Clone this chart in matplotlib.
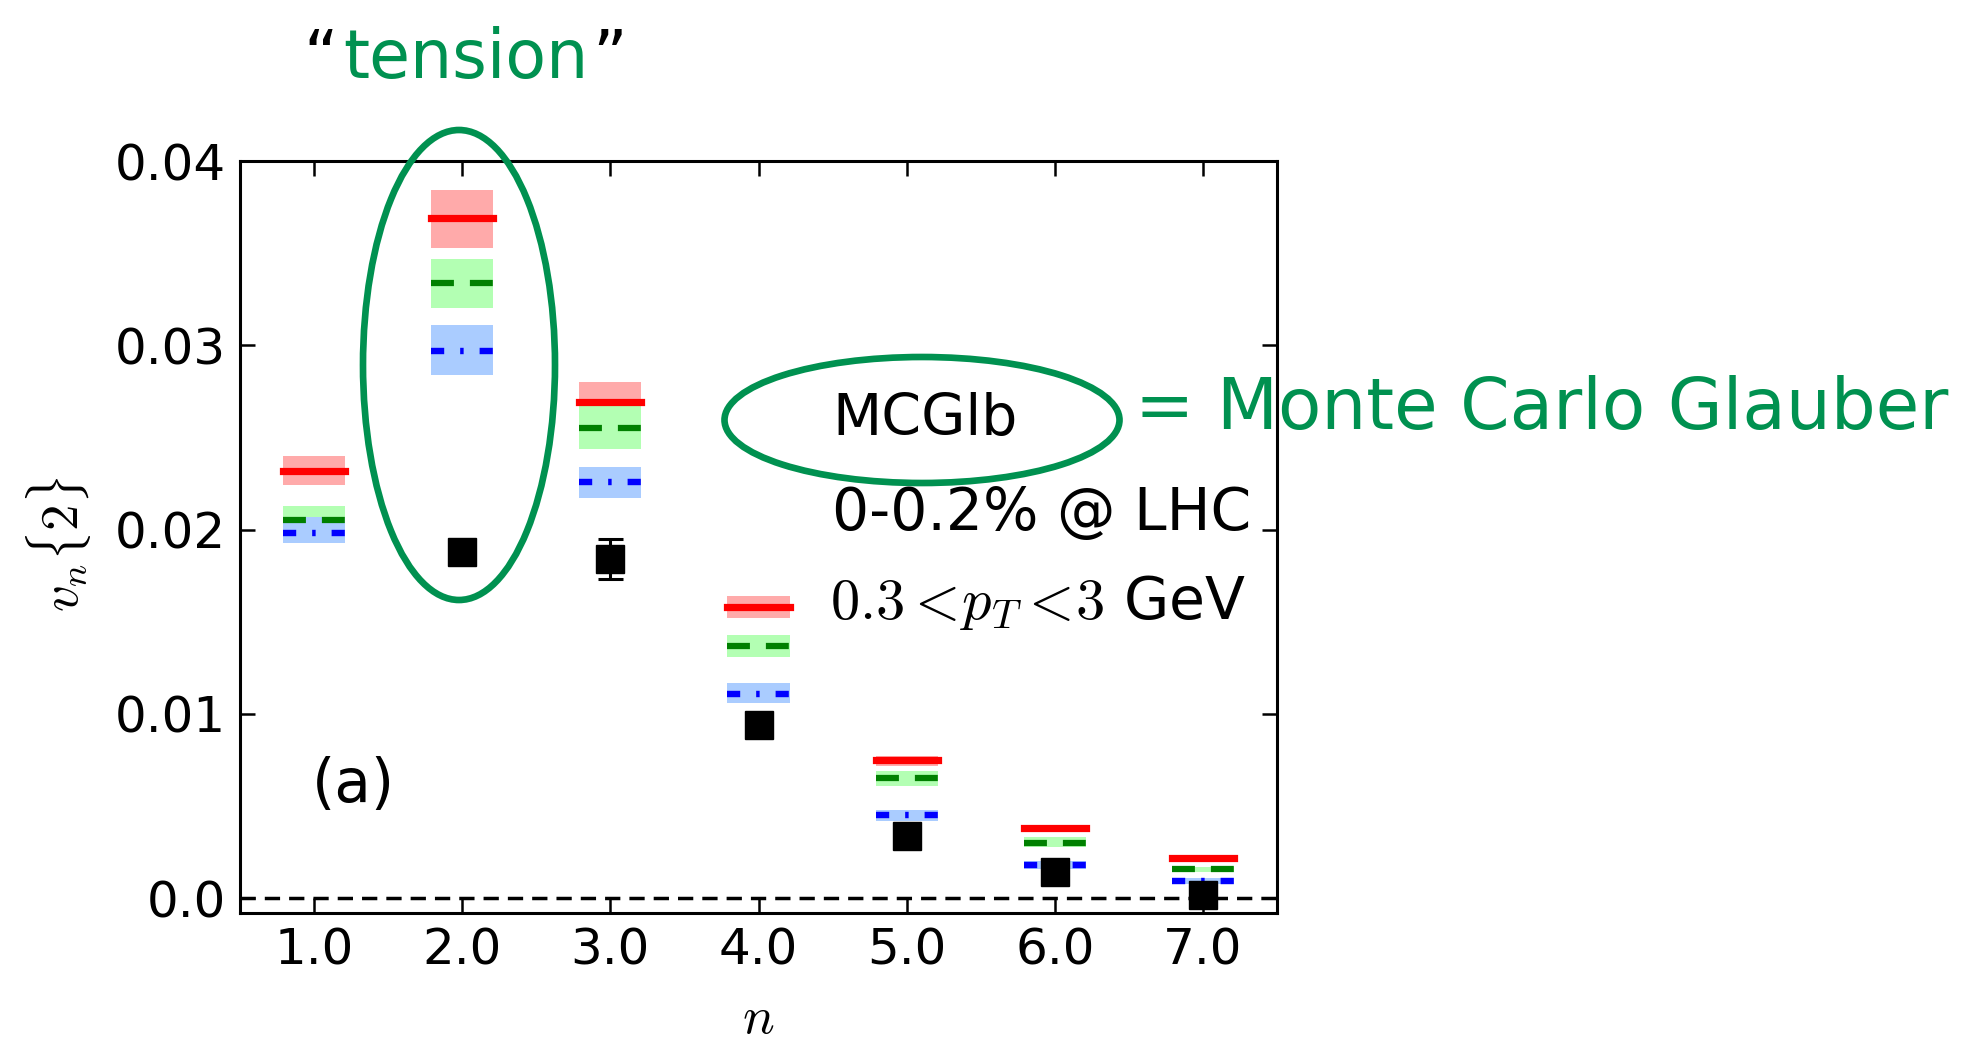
import matplotlib
matplotlib.use("Agg")
import matplotlib.pyplot as plt
from matplotlib.patches import Ellipse

plt.rcParams['mathtext.fontset'] = 'cm'
plt.rcParams['font.family'] = ['DejaVu Sans']
plt.rcParams['lines.scale_dashes'] = False

# ---------------- data ----------------
harmonics = [1, 2, 3, 4, 5, 6, 7]
xtick_labels = ["1.0", "2.0", "3.0", "4.0", "5.0", "6.0", "7.0"]
yticks = [0.0, 0.01, 0.02, 0.03, 0.04]
ytick_labels = ["0.0", "0.01", "0.02", "0.03", "0.04"]

red_mid = [0.0232, 0.0369, 0.0269, 0.0158, 0.0075, 0.0038, 0.0022]
red_lo = [0.0224, 0.0353, 0.0264, 0.0152, 0.0072, 0.0036, 0.0021]
red_hi = [0.0240, 0.0384, 0.0280, 0.0164, 0.0077, 0.0040, 0.0023]

green_mid = [0.0205, 0.0334, 0.0255, 0.0137, 0.0065, 0.0030, 0.00157]
green_lo = [0.0199, 0.0320, 0.0244, 0.0131, 0.0061, 0.0028, 0.0014]
green_hi = [0.0213, 0.0347, 0.0267, 0.0143, 0.0069, 0.0033, 0.0017]

blue_mid = [0.0198, 0.0297, 0.0226, 0.0111, 0.0045, 0.0018, 0.00094]
blue_lo = [0.0193, 0.0284, 0.0217, 0.0106, 0.0042, 0.0016, 0.0008]
blue_hi = [0.0207, 0.0311, 0.0234, 0.0117, 0.0048, 0.0020, 0.0011]

data_n = [2, 3, 4, 5, 6, 7]
data_v = [0.0188, 0.0184, 0.0094, 0.0034, 0.0014, 0.0002]
data_err = [0.0003, 0.0011, 0.0003, 0.0003, 0.0002, 0.0002]

# ---------------- figure ----------------
W, H = 1977, 1041
fig = plt.figure(figsize=(W / 100, H / 100), dpi=100)
ax = fig.add_axes([240 / W, 1 - 913 / H, (1277 - 240) / W, (913 - 161) / H])

half = 0.21
series = [
    (red_mid, red_lo, red_hi, '#ff0000', '#ffaaaa', 5.2, '-'),
    (green_mid, green_lo, green_hi, '#008000', '#b3ffb3', 4.5, (0, (16.5, 11.5))),
    (blue_mid, blue_lo, blue_hi, '#0000ff', '#aaccff', 4.6, (0, (9.5, 11.5, 2.5, 11.5))),
]
for mid, lo, hi, lc, bc, lw, ls in series:
    for n, l, h in zip(harmonics, lo, hi):
        ax.fill_between([n - half, n + half], [l, l], [h, h], color=bc, lw=0, zorder=1)
for mid, lo, hi, lc, bc, lw, ls in series:
    for n, m in zip(harmonics, mid):
        ax.plot([n - half, n + half], [m, m], color=lc, lw=lw, ls=ls, zorder=3)

ax.axhline(0, color='k', lw=2.5, ls=(0, (11, 6.5)), zorder=2)

ax.errorbar(data_n, data_v, yerr=data_err, fmt='s', color='k', ms=20,
            elinewidth=2.2, capsize=9, capthick=2.2, zorder=4)

ax.set_xlim(0.5, 7.5)
ax.set_ylim(-0.0008, 0.04)
ax.set_xticks(harmonics)
ax.set_xticklabels(xtick_labels)
ax.set_yticks(yticks)
ax.set_yticklabels(ytick_labels)
ax.tick_params(direction='in', top=True, right=True, length=11, width=1.8,
               labelsize=36, pad=10)
for s in ax.spines.values():
    s.set_linewidth(2.2)

ax.set_ylabel(r"$v_n\{2\}$", fontsize=38)
ax.yaxis.set_label_coords(-0.142, 0.49)
ax.set_xlabel(r"$n$", fontsize=38)
ax.xaxis.set_label_coords(0.5, -0.105)

# ---------------- overlay annotations (pixel coordinates) ----------------
ov = fig.add_axes([0, 0, 1, 1], zorder=10)
ov.set_xlim(0, W)
ov.set_ylim(H, 0)
ov.axis('off')
ov.patch.set_alpha(0)

green = '#009150'
ov.text(353, 786, "(a)", fontsize=43, ha='center', va='center', color='k')
ov.text(832, 420, "MCGlb", fontsize=41, ha='left', va='center', color='k')
ov.text(832, 514, "0-0.2% @ LHC", fontsize=42, ha='left', va='center', color='k')
ov.text(830, 603, r"$0.3 <\!p_T <\!3$ GeV", fontsize=42, ha='left', va='center', color='k')

ov.add_patch(Ellipse((459, 365), 192, 470, fill=False, ec=green, lw=4.8))
ov.add_patch(Ellipse((922, 420), 395, 126, fill=False, ec=green, lw=4.8))

ov.text(1135, 410, "= Monte Carlo Glauber", fontsize=51, ha='left', va='center', color=green)
ov.text(466, 78, "tension", fontsize=48, ha='center', va='baseline', color=green)
ov.text(338, 78, "\u201c", fontsize=48, ha='right', va='baseline', color='k')
ov.text(592, 78, "\u201d", fontsize=48, ha='left', va='baseline', color='k')

fig.savefig("out.png", dpi=100)
